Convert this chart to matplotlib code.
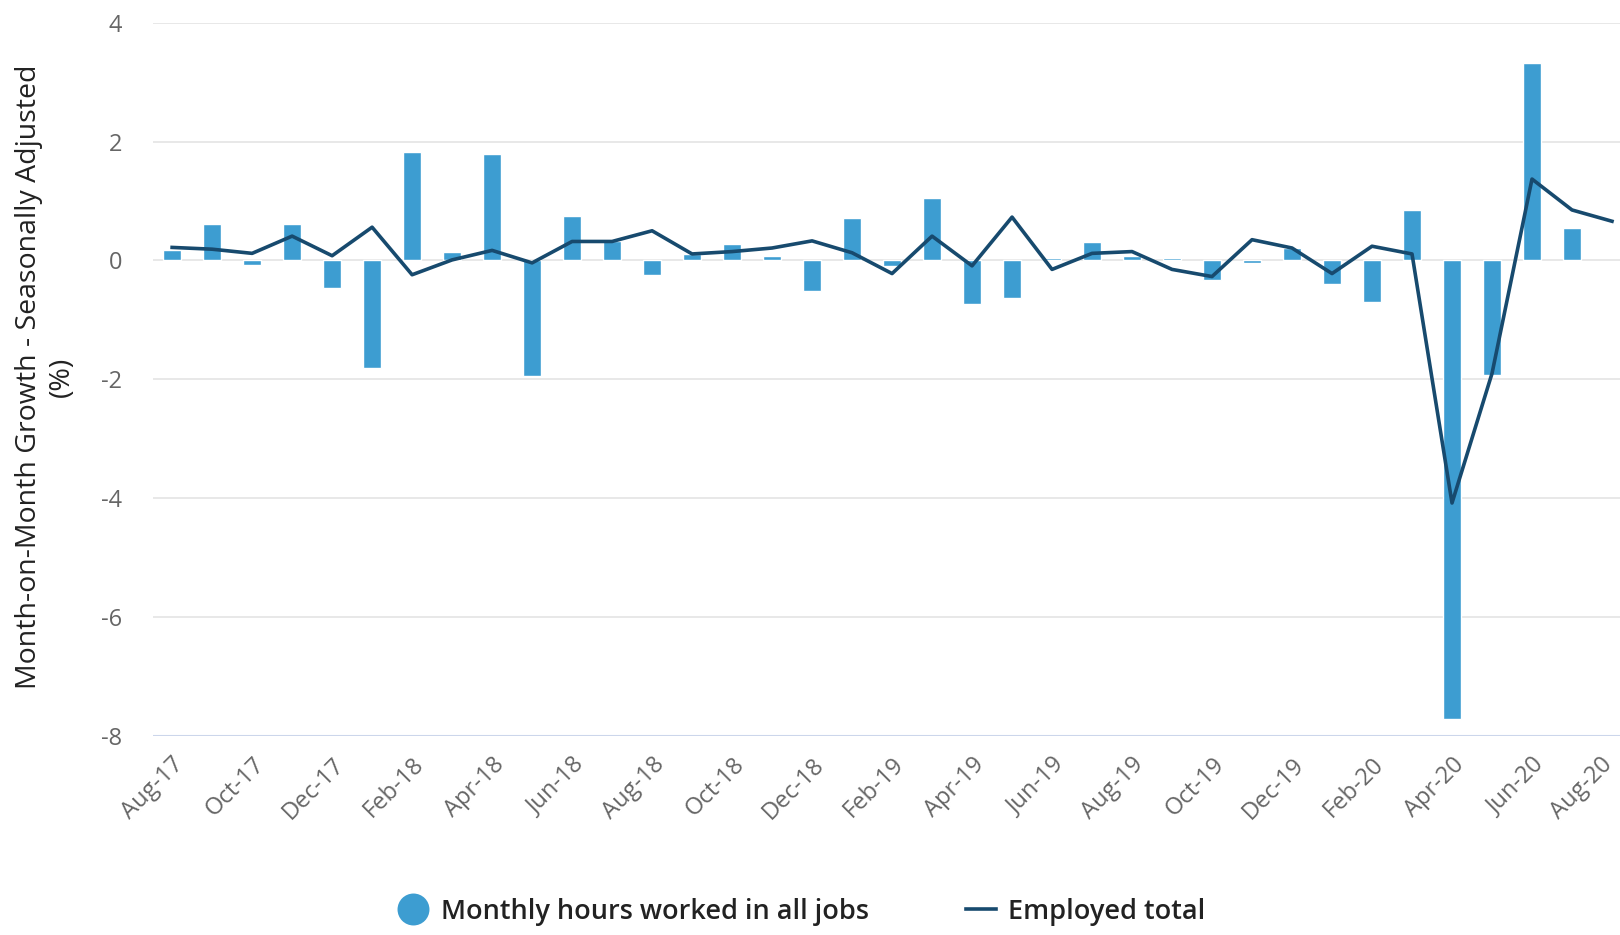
import matplotlib.pyplot as plt
from matplotlib.lines import Line2D
from matplotlib.transforms import ScaledTranslation
import numpy as np

plt.rcParams['font.family'] = ['Open Sans', 'DejaVu Sans']

months = ['Aug-17', 'Sep-17', 'Oct-17', 'Nov-17', 'Dec-17', 'Jan-18', 'Feb-18', 'Mar-18',
          'Apr-18', 'May-18', 'Jun-18', 'Jul-18', 'Aug-18', 'Sep-18', 'Oct-18', 'Nov-18',
          'Dec-18', 'Jan-19', 'Feb-19', 'Mar-19', 'Apr-19', 'May-19', 'Jun-19', 'Jul-19',
          'Aug-19', 'Sep-19', 'Oct-19', 'Nov-19', 'Dec-19', 'Jan-20', 'Feb-20', 'Mar-20',
          'Apr-20', 'May-20', 'Jun-20', 'Jul-20', 'Aug-20']

# monthly hours worked, % change (no figure yet for the last month)
hours = [0.18, 0.62, -0.08, 0.62, -0.46, -1.81, 1.83, 0.14, 1.79, -1.94,
         0.75, 0.32, -0.25, 0.11, 0.28, 0.08, -0.52, 0.71, -0.10, 1.05,
         -0.73, -0.63, 0.04, 0.31, 0.08, 0.04, -0.32, -0.05, 0.21, -0.39,
         -0.70, 0.85, -7.72, -1.92, 3.32, 0.54, np.nan]

employed = [0.22, 0.19, 0.12, 0.41, 0.08, 0.56, -0.24, 0.01, 0.17, -0.04,
            0.32, 0.32, 0.50, 0.11, 0.15, 0.21, 0.33, 0.13, -0.22, 0.41,
            -0.09, 0.73, -0.15, 0.12, 0.15, -0.15, -0.27, 0.35, 0.21, -0.22,
            0.24, 0.11, -4.08, -1.90, 1.37, 0.85, 0.66]

x = np.arange(len(months))

fig = plt.figure(figsize=(16.2, 9.35), dpi=100)
ax = fig.add_axes([0.0944, 0.2128, 0.9056, 0.7629])

for y in range(-6, 5, 2):
    ax.axhline(y, color='#e6e6e6', lw=1.3, zorder=0)
ax.axhline(-8, color='#ccd6eb', lw=1.5, zorder=0)

ax.bar(x, hours, width=0.44, color='#3d9dd1', edgecolor='white', linewidth=1, zorder=2)
ax.plot(x, employed, color='#174a6e', lw=2.6, zorder=3, solid_joinstyle='round')

ax.set_xlim(-0.48, 36.2)
ax.set_ylim(-8, 4)
for s in ax.spines.values():
    s.set_visible(False)

ax.set_yticks(range(-8, 5, 2))
ax.set_yticklabels([str(v) for v in range(-8, 5, 2)])
ax.set_xticks(x[::2])
ax.set_xticklabels(months[::2], rotation=45, ha='right', rotation_mode='anchor')
ax.tick_params(axis='y', length=0, pad=22, labelsize=17, labelcolor='#666666')
ax.tick_params(axis='x', length=0, pad=12, labelsize=17, labelcolor='#666666')

# keep the last month label inside the canvas
last = ax.get_xticklabels()[-1]
last.set_transform(last.get_transform() + ScaledTranslation(-12 / 100, 0, fig.dpi_scale_trans))

fig.text(0.028, 0.597, 'Month-on-Month Growth - Seasonally Adjusted\n(%)', rotation=90,
         ha='center', va='center', fontsize=20.5, color='#222222', linespacing=1.2)

handles = [Line2D([], [], marker='o', color='none', markerfacecolor='#3d9dd1',
                  markeredgecolor='none', markersize=23),
           Line2D([], [], color='#174a6e', lw=2.6)]
fig.legend(handles, ['Monthly hours worked in all jobs', 'Employed total'],
           loc='center', bbox_to_anchor=(0.495, 0.025), ncol=2, frameon=False,
           prop={'size': 19.5, 'weight': 'semibold'}, labelcolor='#222222',
           handlelength=1.1, handletextpad=0.45, columnspacing=3.6)

fig.savefig('out.png', dpi=100, facecolor='white')
